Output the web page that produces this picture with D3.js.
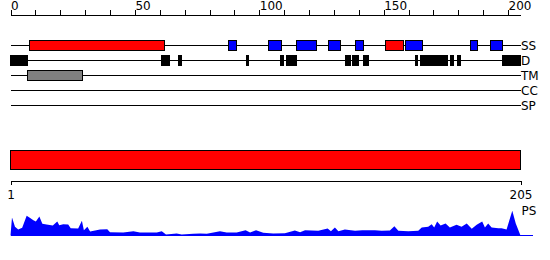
<!DOCTYPE html>
<html>
<head>
<meta charset="utf-8">
<script src="https://cdn.jsdelivr.net/npm/d3@7"></script>
<style>
    body { margin: 0; background: #fff; }
    svg { display: block; font-family: "DejaVu Sans", sans-serif; }
</style>
</head>
<body>
<script>
// Sequence and ruler
const seqLength = 205;
const rulerTicks = [ 0, 10, 20, 30, 40, 50, 60, 70, 80, 90, 100, 110, 120, 130, 140, 150, 160, 170, 180, 190, 200 ];
const rulerLabels = [ 0, 50, 100, 150, 200 ];
const seqAxisLabels = [ 1, 205 ];
const trackNames = [ "SS", "D", "TM", "CC", "SP" ];

// Feature ranges, in ruler units [from, to]
const helices = [ [ 7.6, 61.9 ], [ 150.7, 158.0 ] ];
const strands = [
    [ 87.6, 90.8 ], [ 103.7, 108.9 ], [ 114.9, 123.0 ], [ 127.8, 132.6 ],
    [ 138.7, 141.9 ], [ 158.8, 165.6 ], [ 184.9, 187.7 ], [ 192.9, 197.7 ]
];
const disorder = [
    [ 0, 6.8 ], [ 60.7, 63.9 ], [ 67.7, 68.7 ], [ 94.9, 95.7 ], [ 108.6, 109.6 ],
    [ 110.9, 114.9 ], [ 134.6, 136.7 ], [ 137.5, 139.9 ], [ 141.9, 143.9 ],
    [ 162.8, 163.6 ], [ 164.8, 175.6 ], [ 176.8, 178.0 ], [ 179.7, 180.9 ], [ 197.7, 205 ]
];
const transmembrane = [ [ 6.8, 28.9 ] ];
const domains = [ [ 0, 205 ] ];

// PS profile (position, score)
const psPos = [
    0, 0.6, 1.8, 3.1, 4.7, 6.5, 7.6, 9.2, 10.2, 11.6, 12.8, 14.5, 17, 18.8, 19.6, 21.2,
    23.2, 24.2, 27.2, 28.7, 29.5, 30.9, 32, 36, 38.9, 40, 45.3, 49.4, 52, 58.8, 60.8,
    62.5, 66.8, 68.8, 73.5, 76.2, 78.9, 84.2, 86.9, 90.9, 94.5, 96.3, 98.7, 101.6,
    105.6, 110.3, 114.3, 116.4, 118.4, 123.7, 127.5, 128.8, 130.4, 131.8, 134.4,
    138.5, 141.4, 146.5, 149.2, 152.5, 154.3, 155.9, 159.9, 163.9, 165.3, 167.9,
    169.3, 170.3, 171.5, 172.9, 174.9, 176.6, 179.3, 181.3, 183.4, 185.4, 187.4,
    189.6, 190.7, 192, 193.4, 196.1, 197.4, 199.4, 201.7, 203.1, 205
];
const psVal = [
    0, 0.72, 0.35, 0.24, 0.31, 0.79, 0.72, 0.61, 0.56, 0.76, 0.47, 0.44, 0.40, 0.56, 0.41, 0.45,
    0.44, 0.29, 0.28, 0.59, 0.21, 0.35, 0.16, 0.24, 0.25, 0.13, 0.12, 0.17, 0.12, 0.12, 0.17,
    0.04, 0.08, 0.04, 0.07, 0.08, 0.07, 0.17, 0.12, 0.12, 0.21, 0.12, 0.21, 0.11,
    0.08, 0.09, 0.20, 0.13, 0.21, 0.19, 0.28, 0.17, 0.32, 0.17, 0.24,
    0.19, 0.21, 0.21, 0.19, 0.20, 0.37, 0.19, 0.17, 0.19, 0.32, 0.35,
    0.45, 0.32, 0.56, 0.40, 0.48, 0.32, 0.43, 0.35, 0.48, 0.27, 0.43,
    0.56, 0.32, 0.48, 0.32, 0.29, 0.29, 0.24, 0.99, 0.48, 0
];

const CHART = {
    width: 550,
    height: 260,
    left: 10.5,
    right: 520.5,
    rulerY: 14.5,
    trackTop: 45.5,
    trackStep: 15,
    boxHeight: 10,
    domainY: 150.5,
    domainHeight: 19,
    seqAxisY: 180.5,
    psBase: 235.5,
    psHeight: 25,
    fontSize: 12
};

class ProteinFeatureChart {
    constructor(config) {
        this.config = config;
        this.svg = d3.select("body").append("svg")
            .attr("width", config.width)
            .attr("height", config.height);
        this.x = d3.scaleLinear().domain([ 0, seqLength ]).range([ config.left, config.right ]);
        this.seqX = d3.scaleLinear().domain([ 1, seqLength ]).range([ config.left, config.right ]);
        this.trackY = d3.scalePoint().domain(trackNames)
            .range([ config.trackTop, config.trackTop + config.trackStep * (trackNames.length - 1) ]);
    }

    render() {
        this.renderRuler();
        this.renderTracks();
        this.renderDomains();
        this.renderSeqAxis();
        this.renderProfile();
    }

    styleAxis(g) {
        g.attr("font-family", null).attr("font-size", this.config.fontSize);
        g.selectAll("path, line").attr("stroke", "#000").attr("shape-rendering", "crispEdges");
    }

    renderRuler() {
        const axis = d3.axisTop(this.x)
            .tickValues(rulerTicks)
            .tickFormat(d => rulerLabels.includes(d) ? d : "")
            .tickSize(5)
            .tickSizeOuter(0)
            .tickPadding(0);

        const g = this.svg.append("g")
            .attr("transform", `translate(0,${this.config.rulerY})`)
            .call(axis);
        this.styleAxis(g);
        g.selectAll("text").attr("text-anchor", "start").attr("fill", "#000");
    }

    renderTracks() {
        const c = this.config;
        const tracks = this.svg.append("g").attr("class", "tracks");

        tracks.selectAll("line")
            .data(trackNames)
            .join("line")
            .attr("x1", this.x(0))
            .attr("x2", this.x(seqLength))
            .attr("y1", d => this.trackY(d))
            .attr("y2", d => this.trackY(d))
            .attr("stroke", "#000")
            .attr("shape-rendering", "crispEdges");

        tracks.selectAll("text")
            .data(trackNames)
            .join("text")
            .attr("x", this.x(seqLength) + 0.5)
            .attr("y", d => this.trackY(d) + 4.5)
            .attr("font-size", c.fontSize)
            .text(d => d);

        this.addBoxes(tracks, disorder, "D", "#000");
        this.addBoxes(tracks, transmembrane, "TM", "#808080");
        this.addBoxes(tracks, helices, "SS", "#ff0000");
        this.addBoxes(tracks, strands, "SS", "#0000ff");
    }

    addBoxes(container, ranges, track, color) {
        const h = this.config.boxHeight;
        const y = this.trackY(track);
        container.append("g")
            .selectAll("rect")
            .data(ranges)
            .join("rect")
            .attr("x", d => this.x(d[ 0 ]))
            .attr("width", d => this.x(d[ 1 ]) - this.x(d[ 0 ]))
            .attr("y", y - h / 2)
            .attr("height", h)
            .attr("fill", color)
            .attr("stroke", "#000")
            .attr("shape-rendering", "crispEdges");
    }

    renderDomains() {
        const c = this.config;
        this.svg.append("g")
            .selectAll("rect")
            .data(domains)
            .join("rect")
            .attr("x", d => this.x(d[ 0 ]))
            .attr("width", d => this.x(d[ 1 ]) - this.x(d[ 0 ]))
            .attr("y", c.domainY)
            .attr("height", c.domainHeight)
            .attr("fill", "#ff0000")
            .attr("stroke", "#000")
            .attr("shape-rendering", "crispEdges");
    }

    renderSeqAxis() {
        const axis = d3.axisBottom(this.seqX)
            .tickValues(seqAxisLabels)
            .tickSize(4)
            .tickSizeOuter(0)
            .tickPadding(6);

        const g = this.svg.append("g")
            .attr("transform", `translate(0,${this.config.seqAxisY})`)
            .call(axis);
        this.styleAxis(g);
        g.selectAll("text").attr("fill", "#000");
    }

    renderProfile() {
        const c = this.config;
        const y = d3.scaleLinear().domain([ 0, 1 ]).range([ c.psBase, c.psBase - c.psHeight ]);
        const points = psPos.map((p, i) => [ p, psVal[ i ] ]);

        const area = d3.area()
            .x(d => this.x(d[ 0 ]))
            .y0(y(0))
            .y1(d => y(d[ 1 ]));

        this.svg.append("path")
            .datum(points)
            .attr("d", area)
            .attr("fill", "#0000ff");

        this.svg.append("line")
            .attr("x1", this.x(0))
            .attr("x2", this.x(seqLength) + 12)
            .attr("y1", y(0))
            .attr("y2", y(0))
            .attr("stroke", "#0000ff")
            .attr("shape-rendering", "crispEdges");

        this.svg.append("text")
            .attr("x", this.x(seqLength) + 1)
            .attr("y", c.psBase - 20.5)
            .attr("font-size", c.fontSize)
            .text("PS");
    }
}

document.addEventListener("DOMContentLoaded", () => {
    const chart = new ProteinFeatureChart(CHART);
    chart.render();
});
</script>
</body>
</html>
